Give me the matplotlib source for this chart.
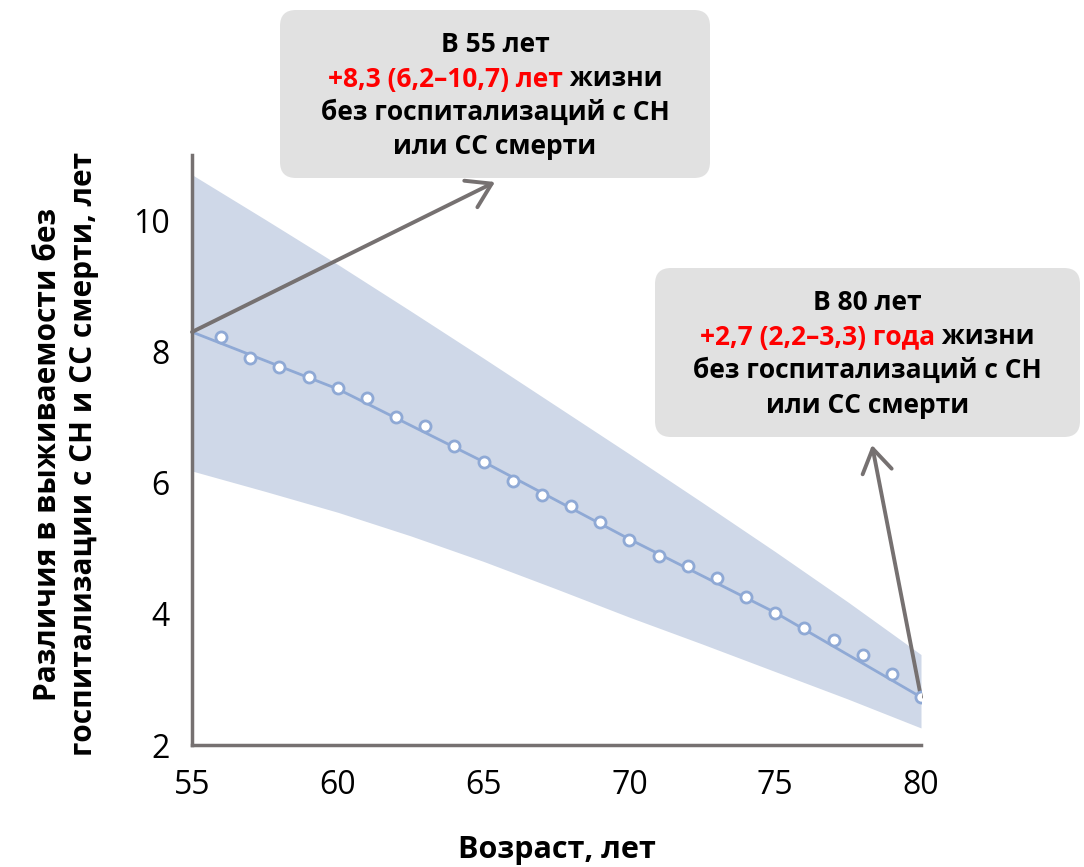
import matplotlib
matplotlib.use("Agg")
import matplotlib.pyplot as plt
from matplotlib.patches import FancyBboxPatch
from matplotlib.transforms import IdentityTransform

plt.rcParams['font.family'] = ['Open Sans', 'DejaVu Sans']

# Возраст и различия (лет) по точкам
ages = [56, 57, 58, 59, 60, 61, 62, 63, 64, 65, 66, 67, 68,
        69, 70, 71, 72, 73, 74, 75, 76, 77, 78, 79, 80]
diff = [8.23, 7.91, 7.77, 7.62, 7.45, 7.30, 7.01, 6.87, 6.56, 6.31, 6.03, 5.82, 5.65,
        5.40, 5.13, 4.89, 4.73, 4.55, 4.26, 4.02, 3.79, 3.60, 3.37, 3.08, 2.73]

# Сглаженная кривая
fit_ages = [55, 60, 65, 70, 75, 80]
fit_vals = [8.30, 7.43, 6.32, 5.14, 4.02, 2.73]

# 95% ДИ
ci_ages = [55, 57.5, 60, 62.5, 65, 67.5, 70, 72.5, 75, 77.5, 80]
ci_low = [6.18, 5.87, 5.55, 5.19, 4.80, 4.38, 3.95, 3.54, 3.12, 2.70, 2.26]
ci_high = [10.70, 10.02, 9.33, 8.62, 7.90, 7.17, 6.44, 5.70, 4.95, 4.18, 3.38]

xticks = [55, 60, 65, 70, 75, 80]
yticks = [2, 4, 6, 8, 10]

W, H = 1084, 867
fig = plt.figure(figsize=(W / 100, H / 100), dpi=100)
ax = fig.add_axes([192 / W, 1 - 745 / H, (921 - 192) / W, (745 - 155) / H])

blue = '#8fa9d5'
ax.fill_between(ci_ages, ci_low, ci_high, color='#cfd8e8', lw=0, zorder=1)
ax.plot(fit_ages, fit_vals, color=blue, lw=2, zorder=2)
ax.plot(ages, diff, 'o', ms=8, mfc='white', mec=blue, mew=2, zorder=5)

ax.set_xlim(55, 80)
ax.set_ylim(2, 11)
ax.set_xticks(xticks)
ax.set_yticks(yticks)
ax.tick_params(length=0, labelsize=23)
ax.tick_params(axis='x', pad=17)
ax.tick_params(axis='y', pad=16)
for s in ['top', 'right']:
    ax.spines[s].set_visible(False)
for s in ['left', 'bottom']:
    ax.spines[s].set_color('#767171')
    ax.spines[s].set_linewidth(2.5)

fig.text(557 / W, 1 - 850 / H, 'Возраст, лет', ha='center', va='center',
         fontsize=22, fontweight='bold')
fig.text(66 / W, 1 - 454 / H,
         'Различия в выживаемости без\nгоспитализации с СН и СС смерти, лет',
         rotation=90, ha='center', va='center', multialignment='center',
         fontsize=21.5, fontweight='bold', linespacing=1.3)

# Выноски
gray = '#767171'
arrow = dict(arrowstyle='->,head_length=0.6,head_width=0.38', color=gray,
             lw=2.8, mutation_scale=28, shrinkA=0, shrinkB=0)
ax.annotate('', xy=(495, H - 182), xycoords='figure pixels',
            xytext=(55, 8.3), textcoords='data', arrowprops=arrow, zorder=4)
ax.annotate('', xy=(872, H - 445), xycoords='figure pixels',
            xytext=(80, 2.73), textcoords='data', arrowprops=arrow, zorder=4)

renderer = fig.canvas.get_renderer()


def line(xc, y, parts, size=19):
    texts = [fig.text(0, 0, s, color=c, fontsize=size, fontweight='bold',
                      ha='left', va='center', zorder=6) for s, c in parts]
    widths = [t.get_window_extent(renderer).width for t in texts]
    x = xc - sum(widths) / 2
    for t, w in zip(texts, widths):
        t.set_position((x / W, 1 - y / H))
        x += w


def callout(x0, y0, x1, y1, age, value, unit):
    box = FancyBboxPatch((x0, H - y1), x1 - x0, y1 - y0,
                         boxstyle='round,pad=0,rounding_size=16',
                         transform=IdentityTransform(), fc='#e1e1e1', ec='none', zorder=5)
    fig.patches.append(box)
    xc = (x0 + x1) / 2
    line(xc, y0 + 34, [(f'В {age} лет', 'black')])
    line(xc, y0 + 69, [(f'+{value} {unit}', '#ff0000'), (' жизни', 'black')])
    line(xc, y0 + 102, [('без госпитализаций с СН', 'black')])
    line(xc, y0 + 137, [('или СС смерти', 'black')])


callout(280, 10, 710, 178, 55, '8,3 (6,2–10,7)', 'лет')
callout(655, 268, 1080, 437, 80, '2,7 (2,2–3,3)', 'года')

fig.savefig('out.png', dpi=100)
